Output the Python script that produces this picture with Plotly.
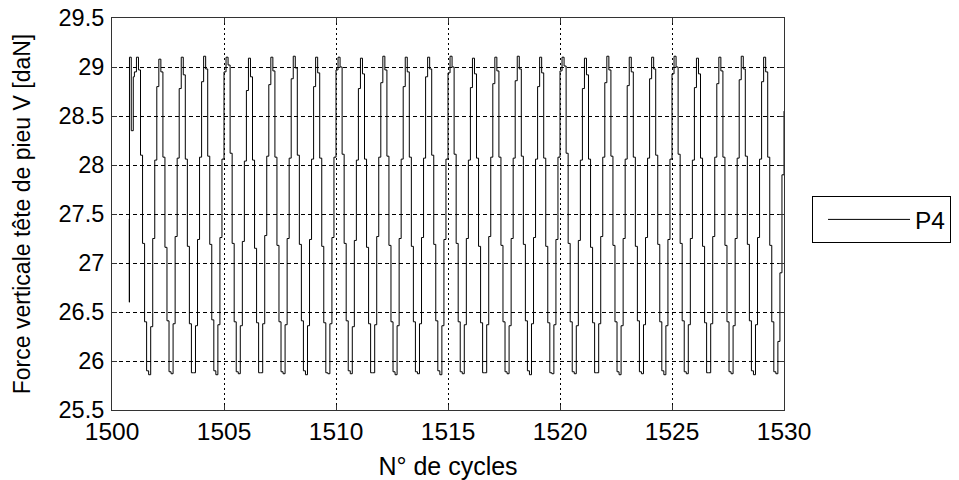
import plotly.graph_objects as go

# ---------------- data ----------------
series_name = "P4"
x_label = "N° de cycles"
y_label = "Force verticale tête de pieu V [daN]"

x_ticks = [1500, 1505, 1510, 1515, 1520, 1525, 1530]
y_ticks = [25.5, 26, 26.5, 27, 27.5, 28, 28.5, 29, 29.5]
y_tick_text = ["25.5", "26", "26.5", "27", "27.5", "28", "28.5", "29", "29.5"]

# start-up transient (explicit sample positions)
start_x = [1500.765, 1500.772, 1500.78, 1500.86, 1500.95]
start_y = [27.45, 26.60, 29.10, 28.35, 28.90]

# steady cycles: 11 held samples per cycle, first cycle starts at 1501
first_cycle = 1501
samples_per_cycle = 11
cycle_values = [
    [28.95, 29.10, 28.97, 28.10, 27.20, 26.40, 25.90, 25.86, 26.35, 27.25, 28.05],  # 1501
    [28.80, 29.08, 28.95, 28.08, 27.16, 26.41, 25.89, 25.87, 26.38, 27.27, 28.07],  # 1502
    [28.78, 29.10, 28.92, 28.06, 27.17, 26.38, 25.88, 25.88, 26.36, 27.24, 28.08],  # 1503
    [28.85, 29.11, 28.98, 28.09, 27.19, 26.42, 25.90, 25.86, 26.37, 27.26, 28.06],  # 1504
    [28.95, 29.10, 29.02, 28.12, 27.20, 26.40, 25.89, 25.87, 26.36, 27.22, 28.04],  # 1505
    [28.76, 29.09, 28.90, 28.05, 27.15, 26.39, 25.88, 25.88, 26.38, 27.28, 28.09],  # 1506
    [28.82, 29.10, 28.96, 28.08, 27.18, 26.40, 25.89, 25.87, 26.37, 27.25, 28.07],  # 1507
    [28.88, 29.11, 28.99, 28.10, 27.19, 26.41, 25.90, 25.86, 26.36, 27.24, 28.06],  # 1508
    [28.80, 29.10, 28.94, 28.07, 27.17, 26.39, 25.88, 25.87, 26.38, 27.26, 28.08],  # 1509
    [28.97, 29.10, 29.00, 28.11, 27.20, 26.41, 25.90, 25.87, 26.35, 27.23, 28.05],  # 1510
    [28.78, 29.09, 28.93, 28.06, 27.16, 26.38, 25.88, 25.88, 26.37, 27.27, 28.08],  # 1511
    [28.84, 29.11, 28.97, 28.09, 27.18, 26.40, 25.89, 25.86, 26.36, 27.25, 28.06],  # 1512
    [28.80, 29.10, 28.95, 28.08, 27.17, 26.40, 25.89, 25.87, 26.38, 27.26, 28.07],  # 1513
    [28.90, 29.10, 28.98, 28.10, 27.19, 26.41, 25.90, 25.86, 26.36, 27.24, 28.06],  # 1514
    [28.94, 29.11, 29.00, 28.11, 27.20, 26.40, 25.89, 25.87, 26.37, 27.25, 28.05],  # 1515
    [28.79, 29.09, 28.93, 28.07, 27.17, 26.39, 25.88, 25.88, 26.37, 27.27, 28.08],  # 1516
    [28.83, 29.10, 28.96, 28.08, 27.18, 26.40, 25.89, 25.87, 26.36, 27.25, 28.07],  # 1517
    [28.86, 29.11, 28.98, 28.09, 27.19, 26.41, 25.90, 25.86, 26.38, 27.26, 28.06],  # 1518
    [28.80, 29.10, 28.94, 28.07, 27.17, 26.39, 25.88, 25.87, 26.37, 27.24, 28.08],  # 1519
    [28.96, 29.10, 29.01, 28.12, 27.20, 26.40, 25.89, 25.87, 26.36, 27.23, 28.05],  # 1520
    [28.78, 29.09, 28.92, 28.06, 27.16, 26.39, 25.88, 25.88, 26.38, 27.27, 28.08],  # 1521
    [28.84, 29.11, 28.97, 28.09, 27.18, 26.40, 25.89, 25.86, 26.36, 27.25, 28.06],  # 1522
    [28.81, 29.10, 28.95, 28.08, 27.17, 26.41, 25.89, 25.87, 26.37, 27.26, 28.07],  # 1523
    [28.88, 29.10, 28.98, 28.10, 27.19, 26.40, 25.90, 25.86, 26.36, 27.24, 28.06],  # 1524
    [28.93, 29.11, 29.00, 28.11, 27.20, 26.41, 25.89, 25.87, 26.37, 27.25, 28.05],  # 1525
    [28.79, 29.09, 28.93, 28.07, 27.17, 26.39, 25.88, 25.88, 26.38, 27.27, 28.08],  # 1526
    [28.83, 29.10, 28.96, 28.08, 27.18, 26.40, 25.89, 25.87, 26.36, 27.25, 28.07],  # 1527
    [28.87, 29.11, 28.98, 28.09, 27.19, 26.41, 25.90, 25.86, 26.37, 27.26, 28.06],  # 1528
    [28.85, 29.10, 28.95, 28.08, 27.18, 26.40, 25.89, 25.87, 26.20, 26.90, 27.90],  # 1529
]
end_x = [1530.0]
end_y = [28.55]

# ---------------- build the series ----------------
xs = list(start_x)
ys = list(start_y)
for i, row in enumerate(cycle_values):
    for k, v in enumerate(row):
        xs.append(first_cycle + i + k / samples_per_cycle)
        ys.append(v)
xs += end_x
ys += end_y

FONT = "Liberation Sans, Arial, sans-serif"

fig = go.Figure()
fig.add_trace(go.Scatter(
    x=xs, y=ys, mode="lines", name=series_name,
    line=dict(color="#000000", width=1, shape="hv"),
))

axis_common = dict(
    showline=True, linecolor="#333333", linewidth=1, mirror="ticks",
    ticks="inside", ticklen=5, tickcolor="#333333",
    showgrid=True, gridcolor="#000000", gridwidth=1,
    zeroline=False, automargin=False, ticklabeloverflow="allow",
)

fig.update_xaxes(
    range=[1500, 1530], tickvals=x_ticks, ticktext=[str(t) for t in x_ticks],
    griddash="2px,3px",
    tickfont=dict(family=FONT, size=24.5, color="#000000"),
    title=dict(text=x_label, font=dict(family=FONT, size=25, color="#000000"), standoff=13),
    ticklabelstandoff=0,
    **axis_common,
)
fig.update_yaxes(
    range=[25.5, 29.5], tickvals=y_ticks, ticktext=y_tick_text,
    griddash="4px,3px",
    tickfont=dict(family=FONT, size=23.5, color="#000000"),
    title=dict(text=y_label, font=dict(family=FONT, size=23, color="#000000"), standoff=21),
    ticklabelstandoff=2,
    **axis_common,
)

fig.update_layout(
    width=959, height=480,
    margin=dict(l=104, r=183, t=10, b=78, autoexpand=False),
    plot_bgcolor="white", paper_bgcolor="white",
    font=dict(family=FONT, size=23, color="#000000"),
    showlegend=True,
    legend=dict(
        x=1.0417, y=0.546, xanchor="left", yanchor="top",
        bordercolor="#000000", borderwidth=1, bgcolor="white",
        font=dict(family=FONT, size=24.5, color="#000000"),
        itemwidth=82, indentation=10,
    ),
)

fig.write_html("out.html")
